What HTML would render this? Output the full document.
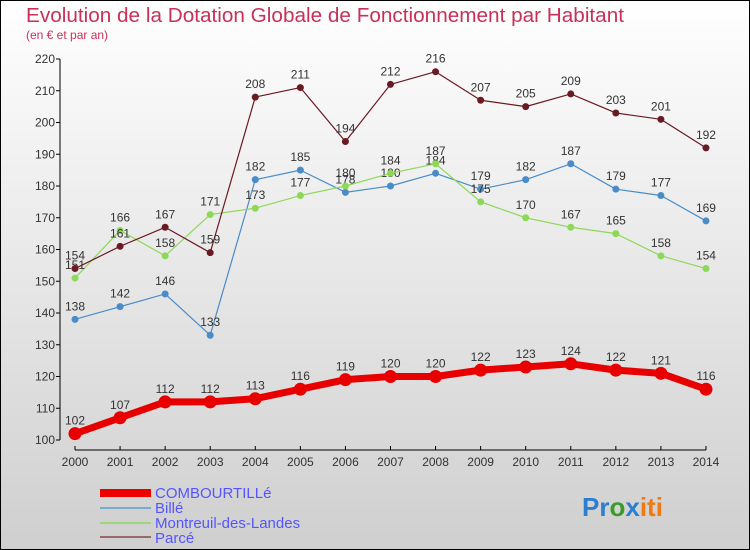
<!DOCTYPE html>
<html><head><meta charset="utf-8"><style>
body{margin:0;width:750px;height:550px;overflow:hidden}
svg{display:block;font-family:"Liberation Sans",sans-serif}
</style></head><body>
<svg width="750" height="550">
<defs><linearGradient id="bg" x1="0" y1="0" x2="0" y2="1"><stop offset="0" stop-color="#ffffff"/><stop offset="1" stop-color="#cfcfcf"/></linearGradient></defs>
<rect x="0.5" y="0.5" width="749" height="549" fill="url(#bg)" stroke="#000"/>
<text x="26" y="22" font-size="20" fill="#c8305a" textLength="598" lengthAdjust="spacingAndGlyphs">Evolution de la Dotation Globale de Fonctionnement par Habitant</text>
<text x="26" y="39" font-size="12" fill="#c8305a">(en € et par an)</text>
<g id="axes"></g><g id="series"></g>
<g font-size="15" fill="#55f">
<rect x="100" y="489" width="51" height="8" fill="#e00"/>
<text x="155" y="498">COMBOURTILLé</text>
<line x1="100" y1="508" x2="151" y2="508" stroke="#7aaad0" stroke-width="2"/>
<text x="155" y="513">Billé</text>
<line x1="100" y1="523" x2="151" y2="523" stroke="#9dd87a" stroke-width="2"/>
<text x="155" y="528">Montreuil-des-Landes</text>
<line x1="100" y1="537" x2="151" y2="537" stroke="#9a6a6a" stroke-width="2"/>
<text x="155" y="543">Parcé</text>
</g>
<g font-size="26" font-weight="bold">
<text x="582" y="516"><tspan fill="#2a7fd0">Pr</tspan><tspan fill="#3a9a2a">o</tspan><tspan fill="#2a7fd0">x</tspan><tspan fill="#f07a10">iti</tspan></text>
</g>
</svg>
<script>
const years=[2000,2001,2002,2003,2004,2005,2006,2007,2008,2009,2010,2011,2012,2013,2014];
const yTicks=[100,110,120,130,140,150,160,170,180,190,200,210,220];
const combourtille=[102,107,112,112,113,116,119,120,120,122,123,124,122,121,116];
const bille=[138,142,146,133,182,185,178,180,184,179,182,187,179,177,169];
const montreuil=[151,166,158,171,173,177,180,184,187,175,170,167,165,158,154];
const parce=[154,161,167,159,208,211,194,212,216,207,205,209,203,201,192];
const NS="http://www.w3.org/2000/svg";
function X(i){return 75+i*45.07;}
function Y(v){return 440-(v-100)*3.175;}
function mk(t,a,p){const e=document.createElementNS(NS,t);for(const k in a)e.setAttribute(k,a[k]);p.appendChild(e);return e;}
const ax=document.getElementById('axes');
mk('line',{x1:60,y1:Y(220),x2:60,y2:Y(100),stroke:'#000'},ax);
mk('line',{x1:75,y1:450,x2:706,y2:450,stroke:'#000'},ax);
yTicks.forEach(v=>{mk('line',{x1:56,y1:Y(v),x2:60,y2:Y(v),stroke:'#000'},ax);
const t=mk('text',{x:55,y:Y(v)+4,'font-size':12,fill:'#333','text-anchor':'end'},ax);t.textContent=v;

});
years.forEach((y,i)=>{mk('line',{x1:X(i),y1:446,x2:X(i),y2:450,stroke:'#000'},ax);
const t=mk('text',{x:X(i),y:466,'font-size':12,fill:'#333','text-anchor':'middle'},ax);t.textContent=y;

});
const sg=document.getElementById('series');
function series(vals,color,w,r,name){
const g=mk('g',{},sg);


mk('polyline',{points:vals.map((v,i)=>X(i)+','+Y(v)).join(' '),fill:'none',stroke:color,'stroke-width':w,'stroke-linejoin':'round'},g);
vals.forEach((v,i)=>{const c=mk('circle',{cx:X(i),cy:Y(v),r:r,fill:color},g);


const t=mk('text',{x:X(i),y:Y(v)-9,'font-size':12,fill:'#333','text-anchor':'middle'},g);t.textContent=v;

});}
series(bille,'#4a8cc8',1.2,3.5,'series-bille');
series(montreuil,'#8ed858',1.2,3.5,'series-montreuil');
series(parce,'#6a1a22',1.2,3.5,'series-parce');
series(combourtille,'#e80000',7,6.5,'series-combourtille');
</script>
</body></html>
